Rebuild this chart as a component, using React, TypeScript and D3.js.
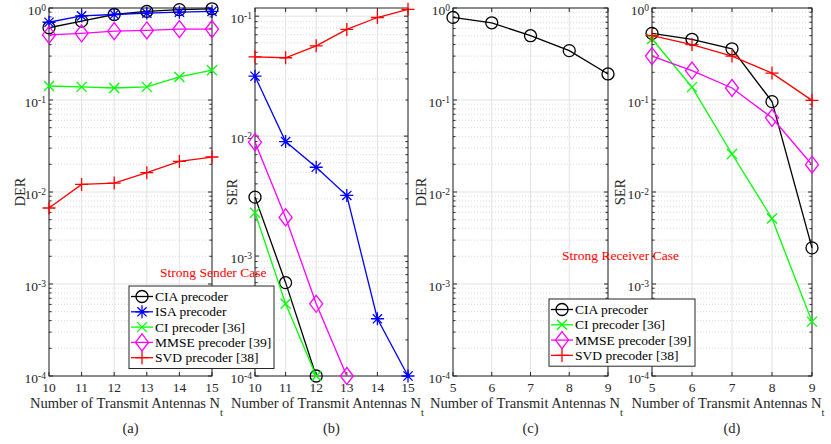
import * as d3 from 'd3'

// x values
const antA = [10, 11, 12, 13, 14, 15]
const antC = [5, 6, 7, 8, 9]

// (a) DER, strong sender case
const derA_CIA = [0.61, 0.72, 0.85, 0.92, 0.96, 0.98]
const derA_ISA = [0.7, 0.82, 0.85, 0.88, 0.9, 0.92]
const derA_CI = [0.142, 0.139, 0.135, 0.139, 0.178, 0.211]
const derA_MMSE = [0.51, 0.53, 0.56, 0.57, 0.59, 0.59]
const derA_SVD = [0.0067, 0.0121, 0.0125, 0.0162, 0.0215, 0.024]

// (b) SER, strong sender case
const serB_CIA = [0.0031, 0.0006, 0.0001]
const serB_ISA = [0.0316, 0.009, 0.0055, 0.0032, 0.0003, 0.0001]
const serB_CI = [0.0023, 0.0004, 0.0001]
const serB_MMSE = [0.0089, 0.0021, 0.0004, 0.0001]
const serB_SVD = [0.0458, 0.045, 0.0566, 0.0775, 0.0975, 0.114]

// (c) DER, strong receiver case
const derC_CIA = [0.79, 0.69, 0.5, 0.344, 0.192]

// (d) SER, strong receiver case
const serD_CIA = [0.53, 0.457, 0.36, 0.096, 0.00247]
const serD_CI = [0.46, 0.138, 0.0259, 0.00515, 0.00039]
const serD_MMSE = [0.3, 0.209, 0.135, 0.064, 0.0198]
const serD_SVD = [0.5, 0.4, 0.3, 0.196, 0.099]

const legendA = ['CIA precoder', 'ISA precoder', 'CI precoder [36]', 'MMSE precoder [39]', 'SVD precoder [38]']
const legendC = ['CIA precoder', 'CI precoder [36]', 'MMSE precoder [39]', 'SVD precoder [38]']

const FONT = "'Liberation Serif', 'Times New Roman', Times, serif"
const AX = '#262626'

type Marker = 'o' | '*' | 'x' | 'd' | '+'
const styles: Record<string, { color: string; marker: Marker }> = {
  CIA: { color: '#000000', marker: 'o' },
  ISA: { color: '#0000ff', marker: '*' },
  CI: { color: '#00ff00', marker: 'x' },
  MMSE: { color: '#ff00ff', marker: 'd' },
  SVD: { color: '#ff0000', marker: '+' },
}

function MarkerShape({ m, x, y, color }: { m: Marker; x: number; y: number; color: string }) {
  const p = { stroke: color, strokeWidth: 1.3, fill: 'none' }
  if (m === 'o') return <circle cx={x} cy={y} r={6} {...p} />
  if (m === 'd')
    return <polygon points={`${x},${y - 8.5} ${x + 6.5},${y} ${x},${y + 8.5} ${x - 6.5},${y}`} {...p} />
  if (m === '+')
    return <path d={`M${x - 6.5},${y}H${x + 6.5}M${x},${y - 6.5}V${y + 6.5}`} {...p} />
  if (m === 'x')
    return <path d={`M${x - 5},${y - 5}L${x + 5},${y + 5}M${x - 5},${y + 5}L${x + 5},${y - 5}`} {...p} />
  const a = 4.6
  return (
    <path
      d={`M${x - 6.5},${y}H${x + 6.5}M${x},${y - 6.5}V${y + 6.5}M${x - a},${y - a}L${x + a},${y + a}M${x - a},${y + a}L${x + a},${y - a}`}
      {...p}
    />
  )
}

type Series = { key: string; xs: number[]; ys: number[] }

function Panel(props: {
  left: number; right: number; top: number; bottom: number
  xDomain: [number, number]; xTicks: number[]; yDomain: [number, number]
  ylabel: string; ylabelX: number; tag: string; series: Series[]
}) {
  const { left, right, top, bottom, xDomain, xTicks, yDomain, ylabel, ylabelX, tag, series } = props
  const x = d3.scaleLinear().domain(xDomain).range([left, right])
  const y = d3.scaleLog().domain(yDomain).range([bottom, top])
  const decades = [-4, -3, -2, -1, 0].filter(e => Math.pow(10, e) >= yDomain[0] * 0.999 && Math.pow(10, e) <= yDomain[1] * 1.001)
  const minors: number[] = []
  for (let e = -4; e <= 0; e++) for (let k = 2; k <= 9; k++) {
    const v = k * Math.pow(10, e)
    if (v > yDomain[0] && v < yDomain[1]) minors.push(v)
  }
  const line = d3.line<[number, number]>().x(d => x(d[0])).y(d => y(d[1]))
  const cx = (left + right) / 2
  return (
    <g>
      {/* minor grid */}
      {minors.map(v => (
        <line key={'mg' + v} x1={left} x2={right} y1={y(v)} y2={y(v)} stroke="#d0d0d0" strokeWidth={0.8} strokeDasharray="1,2" />
      ))}
      {/* major grid */}
      {decades.map(e => (
        <line key={'g' + e} x1={left} x2={right} y1={y(Math.pow(10, e))} y2={y(Math.pow(10, e))} stroke="#e3e3e3" strokeWidth={1} />
      ))}
      {xTicks.map(t => (
        <line key={'gx' + t} x1={x(t)} x2={x(t)} y1={top} y2={bottom} stroke="#e3e3e3" strokeWidth={1} />
      ))}
      {/* ticks */}
      {xTicks.map(t => (
        <g key={'tx' + t}>
          <line x1={x(t)} x2={x(t)} y1={bottom} y2={bottom - 4} stroke={AX} />
          <line x1={x(t)} x2={x(t)} y1={top} y2={top + 4} stroke={AX} />
          <text x={x(t)} y={392} fontSize={13.5} textAnchor="middle" fill={AX}>{t}</text>
        </g>
      ))}
      {decades.map(e => {
        const yy = y(Math.pow(10, e))
        return (
          <g key={'ty' + e}>
            <line x1={left} x2={left + 4} y1={yy} y2={yy} stroke={AX} />
            <line x1={right} x2={right - 4} y1={yy} y2={yy} stroke={AX} />
            <text x={left - 3} y={yy + 6.5} fontSize={13.5} textAnchor="end" fill={AX}>
              10<tspan fontSize={9.5} dy={-4}>{e}</tspan>
            </text>
          </g>
        )
      })}
      {minors.map(v => (
        <g key={'mt' + v}>
          <line x1={left} x2={left + 2.5} y1={y(v)} y2={y(v)} stroke={AX} />
          <line x1={right} x2={right - 2.5} y1={y(v)} y2={y(v)} stroke={AX} />
        </g>
      ))}
      <rect x={left} y={top} width={right - left} height={bottom - top} fill="none" stroke={AX} strokeWidth={1} />
      {/* data */}
      {series.map(s => {
        const st = styles[s.key]
        const pts = s.ys.map((v, i) => [s.xs[i], v] as [number, number])
        return (
          <g key={s.key}>
            <path d={line(pts) || ''} fill="none" stroke={st.color} strokeWidth={1.3} />
            {pts.map((p, i) => (
              <MarkerShape key={i} m={st.marker} x={x(p[0])} y={y(p[1])} color={st.color} />
            ))}
          </g>
        )
      })}
      <text x={ylabelX} y={(top + bottom) / 2} fontSize={14.5} textAnchor="middle" fill={AX}
        transform={`rotate(-90 ${ylabelX} ${(top + bottom) / 2})`}>{ylabel}</text>
      <text x={cx - 4} y={408} fontSize={14.5} textAnchor="middle" fill={AX}>
        Number of Transmit Antennas N<tspan fontSize={10.5} dy={8}>t</tspan>
      </text>
      <text x={cx} y={433} fontSize={14.5} textAnchor="middle" fill={AX}>{tag}</text>
    </g>
  )
}

function Legend({ x0, y0, w, entries, keys }: { x0: number; y0: number; w: number; entries: string[]; keys: string[] }) {
  const step = 15.3
  const h = entries.length * step + 6
  return (
    <g>
      <rect x={x0} y={y0} width={w} height={h} fill="#fff" stroke={AX} strokeWidth={1} />
      {entries.map((lab, i) => {
        const st = styles[keys[i]]
        const yy = y0 + 10.5 + i * step
        return (
          <g key={lab}>
            <line x1={x0 + 2} x2={x0 + 24} y1={yy} y2={yy} stroke={st.color} strokeWidth={1.3} />
            <MarkerShape m={st.marker} x={x0 + 13} y={yy} color={st.color} />
            <text x={x0 + 26} y={yy + 4.5} fontSize={13.5} fill="#000">{lab}</text>
          </g>
        )
      })}
    </g>
  )
}

export default function App() {
  return (
    <svg width={831} height={444} style={{ position: 'absolute', left: 0, top: 0, background: '#fff', fontFamily: FONT }}>
      <rect width={831} height={444} fill="#fff" />
      <Panel left={49} right={212} top={8} bottom={376} xDomain={[10, 15]} xTicks={antA} yDomain={[1e-4, 1]}
        ylabel="DER" ylabelX={25} tag="(a)"
        series={[
          { key: 'CIA', xs: antA, ys: derA_CIA },
          { key: 'ISA', xs: antA, ys: derA_ISA },
          { key: 'CI', xs: antA, ys: derA_CI },
          { key: 'MMSE', xs: antA, ys: derA_MMSE },
          { key: 'SVD', xs: antA, ys: derA_SVD },
        ]} />
      <Panel left={255} right={408} top={8} bottom={376} xDomain={[10, 15]} xTicks={antA} yDomain={[1e-4, 0.117]}
        ylabel="SER" ylabelX={237} tag="(b)"
        series={[
          { key: 'CIA', xs: antA, ys: serB_CIA },
          { key: 'ISA', xs: antA, ys: serB_ISA },
          { key: 'CI', xs: antA, ys: serB_CI },
          { key: 'MMSE', xs: antA, ys: serB_MMSE },
          { key: 'SVD', xs: antA, ys: serB_SVD },
        ]} />
      <Panel left={453} right={608} top={8} bottom={376} xDomain={[5, 9]} xTicks={antC} yDomain={[1e-4, 1]}
        ylabel="DER" ylabelX={426} tag="(c)"
        series={[{ key: 'CIA', xs: antC, ys: derC_CIA }]} />
      <Panel left={652} right={812} top={8} bottom={376} xDomain={[5, 9]} xTicks={antC} yDomain={[1e-4, 1]}
        ylabel="SER" ylabelX={625} tag="(d)"
        series={[
          { key: 'CIA', xs: antC, ys: serD_CIA },
          { key: 'CI', xs: antC, ys: serD_CI },
          { key: 'MMSE', xs: antC, ys: serD_MMSE },
          { key: 'SVD', xs: antC, ys: serD_SVD },
        ]} />
      <Legend x0={129} y0={286} w={145} entries={legendA} keys={['CIA', 'ISA', 'CI', 'MMSE', 'SVD']} />
      <Legend x0={549} y0={299} w={146} entries={legendC} keys={['CIA', 'CI', 'MMSE', 'SVD']} />
      <text x={160} y={277} fontSize={13.5} fill="#ff0000">Strong Sender Case</text>
      <text x={562} y={260} fontSize={13.5} fill="#ff0000">Strong Receiver Case</text>
    </svg>
  )
}
